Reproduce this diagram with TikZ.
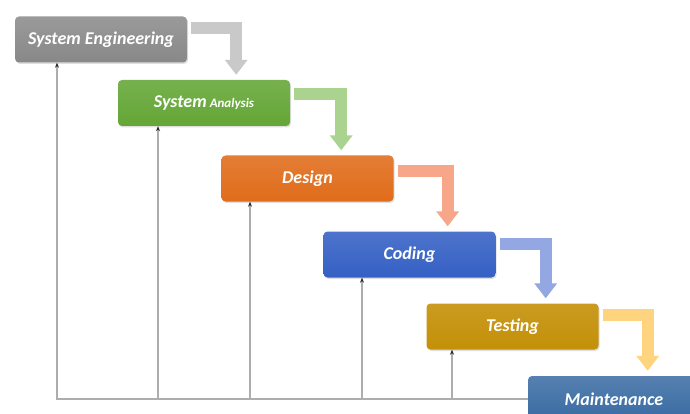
\documentclass[tikz,border=0pt]{standalone}
\usepackage{fontspec}
\setmainfont{Carlito}
\usetikzlibrary{arrows.meta,calc,shadows}

% colours of the phases and of their hand-over arrows
\definecolor{segray}{HTML}{888888}
\definecolor{sagreen}{HTML}{64A636}
\definecolor{dsorange}{HTML}{E06C1A}
\definecolor{cdblue}{HTML}{3560C4}
\definecolor{tsgold}{HTML}{C49008}
\definecolor{mtblue}{HTML}{386AA2}
\definecolor{flowgray}{HTML}{C9C9C9}
\definecolor{flowgreen}{HTML}{A9D38E}
\definecolor{flowsalmon}{HTML}{F7A689}
\definecolor{flowblue}{HTML}{93A8E2}
\definecolor{flowyellow}{HTML}{FFD47E}

\tikzset{
  phase/.style={rounded corners=4pt, minimum width=172pt, minimum height=46pt,
    inner sep=0pt, text=white, font=\bfseries\itshape\fontsize{18}{20}\selectfont,
    drop shadow={opacity=0.25, shadow xshift=1pt, shadow yshift=-1.5pt}},
  flow/.style={line width=12pt, line join=miter, -{Triangle[width=22pt,length=15pt]}},
  feedback/.style={draw=black!32, line width=1.2pt,
    -{Stealth[length=5pt,width=4pt,color=black!85]}}
}

\begin{document}
\begin{tikzpicture}[x=1pt, y=-1pt]
    \useasboundingbox (0,0) rectangle (690,414);

    % Fases en cascada
    \node[phase, top color=segray!85!white, bottom color=segray] (se) at (101,39.5) {System Engineering};
    \node[phase, top color=sagreen!88!white, bottom color=sagreen] (sa) at (204,103)
        {System\,{\fontsize{13}{15}\selectfont Analysis}};
    \node[phase, top color=dsorange!88!white, bottom color=dsorange] (ds) at (307.5,178.5) {Design};
    \node[phase, top color=cdblue!88!white, bottom color=cdblue] (cd) at (409.5,254.5) {Coding};
    \node[phase, top color=tsgold!90!white, bottom color=tsgold] (ts) at (512.5,326.5) {Testing};
    \node[phase, top color=mtblue!85!white, bottom color=mtblue] (mt) at (614,399) {Maintenance};

    % Fletxes que baixen d'una fase a la següent
    \draw[flow, draw=flowgray]   ([xshift=4pt,yshift=-12pt]se.north east) -| ($(se.east |- sa.north)+(49,-5)$);
    \draw[flow, draw=flowgreen]  ([xshift=4pt,yshift=-14pt]sa.north east) -| ($(sa.east |- ds.north)+(51,-5)$);
    \draw[flow, draw=flowsalmon] ([xshift=4pt,yshift=-16pt]ds.north east) -| ($(ds.east |- cd.north)+(54,-5)$);
    \draw[flow, draw=flowblue]   ([xshift=4pt,yshift=-13pt]cd.north east) -| ($(cd.east |- ts.north)+(50,-5)$);
    \draw[flow, draw=flowyellow] ([xshift=4pt,yshift=-12pt]ts.north east) -| ($(ts.east |- mt.north)+(49,-5)$);

    % Línies de retorn cap a les fases anteriors
    \coordinate (base) at (57,399);
    \draw[feedback] (mt.west |- base) -- (base) -- (base |- se.south);
    \foreach \ph/\x in {sa/158, ds/250, cd/362, ts/452}
        \draw[feedback] (\x,399) -- (\x,399 |- \ph.south);
\end{tikzpicture}
\end{document}
